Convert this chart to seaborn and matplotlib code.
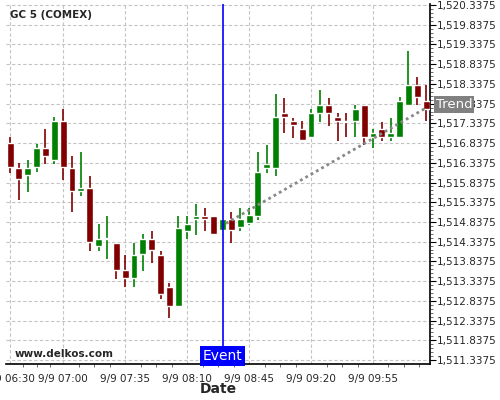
import numpy as np
import pandas as pd
import seaborn as sns
import matplotlib.pyplot as plt
from matplotlib.ticker import FuncFormatter, FixedLocator
from matplotlib.transforms import blended_transform_factory

# 5 minute candles, 06:30 -> 10:25 on 9/9
times = pd.date_range("2019-09-09 06:30", periods=48, freq="5min")

opens = [1516.84, 1516.21, 1516.02, 1516.22, 1516.72, 1516.41, 1517.40, 1516.21,
         1515.61, 1515.70, 1514.22, 1514.40, 1514.31, 1513.61, 1513.41, 1514.02,
         1514.41, 1514.01, 1513.20, 1512.70, 1514.62, 1514.90, 1514.99, 1514.99,
         1514.63, 1514.90, 1514.70, 1514.82, 1515.00, 1516.21, 1516.21, 1517.59,
         1517.39, 1517.19, 1516.99, 1517.60, 1517.80, 1517.49, 1517.40, 1517.40,
         1517.80, 1516.99, 1517.19, 1516.99, 1516.99, 1517.80, 1518.30, 1517.90]
highs = [1516.99, 1516.32, 1516.40, 1516.81, 1517.19, 1517.50, 1517.69, 1516.51,
         1516.61, 1516.00, 1514.79, 1514.99, 1514.31, 1514.00, 1514.31, 1514.52,
         1514.62, 1514.11, 1513.30, 1514.99, 1514.99, 1515.29, 1515.19, 1514.99,
         1514.92, 1515.09, 1515.19, 1515.20, 1516.61, 1516.79, 1518.09, 1517.98,
         1517.48, 1517.39, 1517.69, 1518.19, 1517.99, 1517.59, 1517.59, 1517.79,
         1517.80, 1517.19, 1517.38, 1517.48, 1518.00, 1519.18, 1518.50, 1518.30]
lows = [1516.09, 1515.39, 1515.60, 1516.10, 1516.30, 1516.30, 1515.90, 1515.09,
        1515.49, 1514.09, 1514.09, 1513.90, 1513.39, 1513.18, 1513.18, 1513.59,
        1513.79, 1512.88, 1512.41, 1512.68, 1514.41, 1514.51, 1514.61, 1514.50,
        1514.60, 1514.30, 1514.60, 1514.75, 1514.89, 1516.09, 1515.99, 1517.08,
        1516.97, 1516.89, 1516.97, 1517.38, 1517.28, 1516.90, 1516.99, 1516.99,
        1516.80, 1516.70, 1516.89, 1516.89, 1516.97, 1517.79, 1517.80, 1517.39]
closes = [1516.22, 1515.92, 1516.21, 1516.72, 1516.52, 1517.40, 1516.22, 1515.61,
          1515.70, 1514.32, 1514.41, 1514.42, 1513.61, 1513.41, 1514.01, 1514.41,
          1514.12, 1513.01, 1512.70, 1514.69, 1514.79, 1514.99, 1514.90, 1514.52,
          1514.90, 1514.63, 1514.90, 1515.01, 1516.11, 1516.30, 1517.49, 1517.49,
          1517.30, 1516.91, 1517.59, 1517.80, 1517.60, 1517.40, 1517.38, 1517.69,
          1516.99, 1517.09, 1516.99, 1517.09, 1517.90, 1518.30, 1518.01, 1517.70]

trend_times = ["2019-09-09 08:32", "2019-09-09 10:25"]
trend_prices = [1514.80, 1517.73]
event_time = "2019-09-09 08:30"
xtick_times = ["06:30", "07:00", "07:35", "08:10", "08:45", "09:20", "09:55"]

df = pd.DataFrame({"time": times, "open": opens, "high": highs,
                   "low": lows, "close": closes})
t0 = pd.Timestamp("2019-09-09 06:30")
df["m"] = (df["time"] - t0).dt.total_seconds() / 60
up = df["close"] >= df["open"]
df["color"] = np.where(up, "#008000", "#800000")

sns.set_style("white")
plt.rcParams["font.family"] = ["DejaVu Sans"]

fig = plt.figure(figsize=(5, 4), dpi=100)
ax = fig.add_axes([6 / 500, 36 / 400, 424 / 500, 360 / 400])

# wicks + bodies
ax.vlines(df["m"], df["low"], df["high"], colors=df["color"], linewidth=1.2, zorder=3)
body_lo = np.minimum(df["open"], df["close"])
body_h = np.maximum((df["open"] - df["close"]).abs(), 0.02)
ax.bar(df["m"], body_h, bottom=body_lo, width=3.9, color=df["color"], zorder=4)

# trend line
trend = pd.DataFrame({
    "m": (pd.to_datetime(trend_times) - t0).total_seconds() / 60,
    "p": trend_prices})
sns.lineplot(data=trend, x="m", y="p", ax=ax, color="#888888",
             linestyle=(0, (1, 1.2)), linewidth=2, zorder=5)

# event line
ev = (pd.Timestamp(event_time) - t0).total_seconds() / 60
ax.axvline(ev, color="#0000ff", linewidth=1.2, zorder=6)

ax.set_xlim(-2.3, 237.2)
ax.set_ylim(1511.236, 1520.363)

# axes / ticks
xt = [(pd.Timestamp("2019-09-09 " + t) - t0).total_seconds() / 60 for t in xtick_times]
ax.set_xticks(xt)
ax.set_xticklabels(["9/9 " + t for t in xtick_times], fontsize=7.5)
minor_x = []
for a, b in zip(xt[:-1], xt[1:]):
    minor_x += [a + (b - a) * k / 4 for k in (1, 2, 3)]
minor_x += [xt[-1] + 35 * k / 4 for k in (1, 2, 3, 4, 5, 6, 7)]
minor_x = [v for v in minor_x if v < 237]
ax.xaxis.set_minor_locator(FixedLocator(minor_x))

ax.yaxis.tick_right()
ax.set_yticks(1511.3375 + 0.5 * np.arange(19))
ax.yaxis.set_minor_locator(FixedLocator(1511.3375 + 0.1 * np.arange(91)))
ax.yaxis.set_major_formatter(FuncFormatter(lambda v, p: f"{v:,.4f}"))
ax.tick_params(axis="y", labelsize=7.5, length=4, width=0.8, pad=1, color="black")
ax.tick_params(axis="y", which="minor", length=2, width=0.6, color="#555555", right=True)
ax.tick_params(axis="x", length=4, width=0.8, pad=3, color="black")
ax.tick_params(axis="x", which="minor", length=2, width=0.6, color="#555555", bottom=True)

ax.grid(True, which="major", color="#c4c4c4", linestyle=(0, (3, 2)), linewidth=0.8)
ax.set_axisbelow(True)
for s in ["top", "left"]:
    ax.spines[s].set_visible(False)
for s in ["bottom", "right"]:
    ax.spines[s].set_color("black")
    ax.spines[s].set_linewidth(1.2)

ax.set_xlabel("Date", fontsize=10, fontweight="bold", labelpad=-1)
ax.set_ylabel("")

ax.text(0.0094, 0.969, "GC 5 (COMEX)", transform=ax.transAxes, fontsize=7.5,
        fontweight="bold", va="center", ha="left")
ax.text(0.021, 0.028, "www.delkos.com", transform=ax.transAxes, fontsize=7.5,
        fontweight="bold", va="center", ha="left")

tr = blended_transform_factory(ax.transData, ax.transAxes)
ax.text(ev, 0.022, "Event", transform=tr, fontsize=10, color="white",
        ha="center", va="center", zorder=7,
        bbox=dict(boxstyle="square,pad=0.2", fc="#0000ff", ec="none"))
ax.text(1.057, 0.722, "Trend", transform=ax.transAxes, fontsize=9.5, color="white",
        ha="center", va="center", clip_on=False, zorder=7,
        bbox=dict(boxstyle="square,pad=0.15", fc="#808080", ec="none"))

plt.savefig("out.png", dpi=100)
